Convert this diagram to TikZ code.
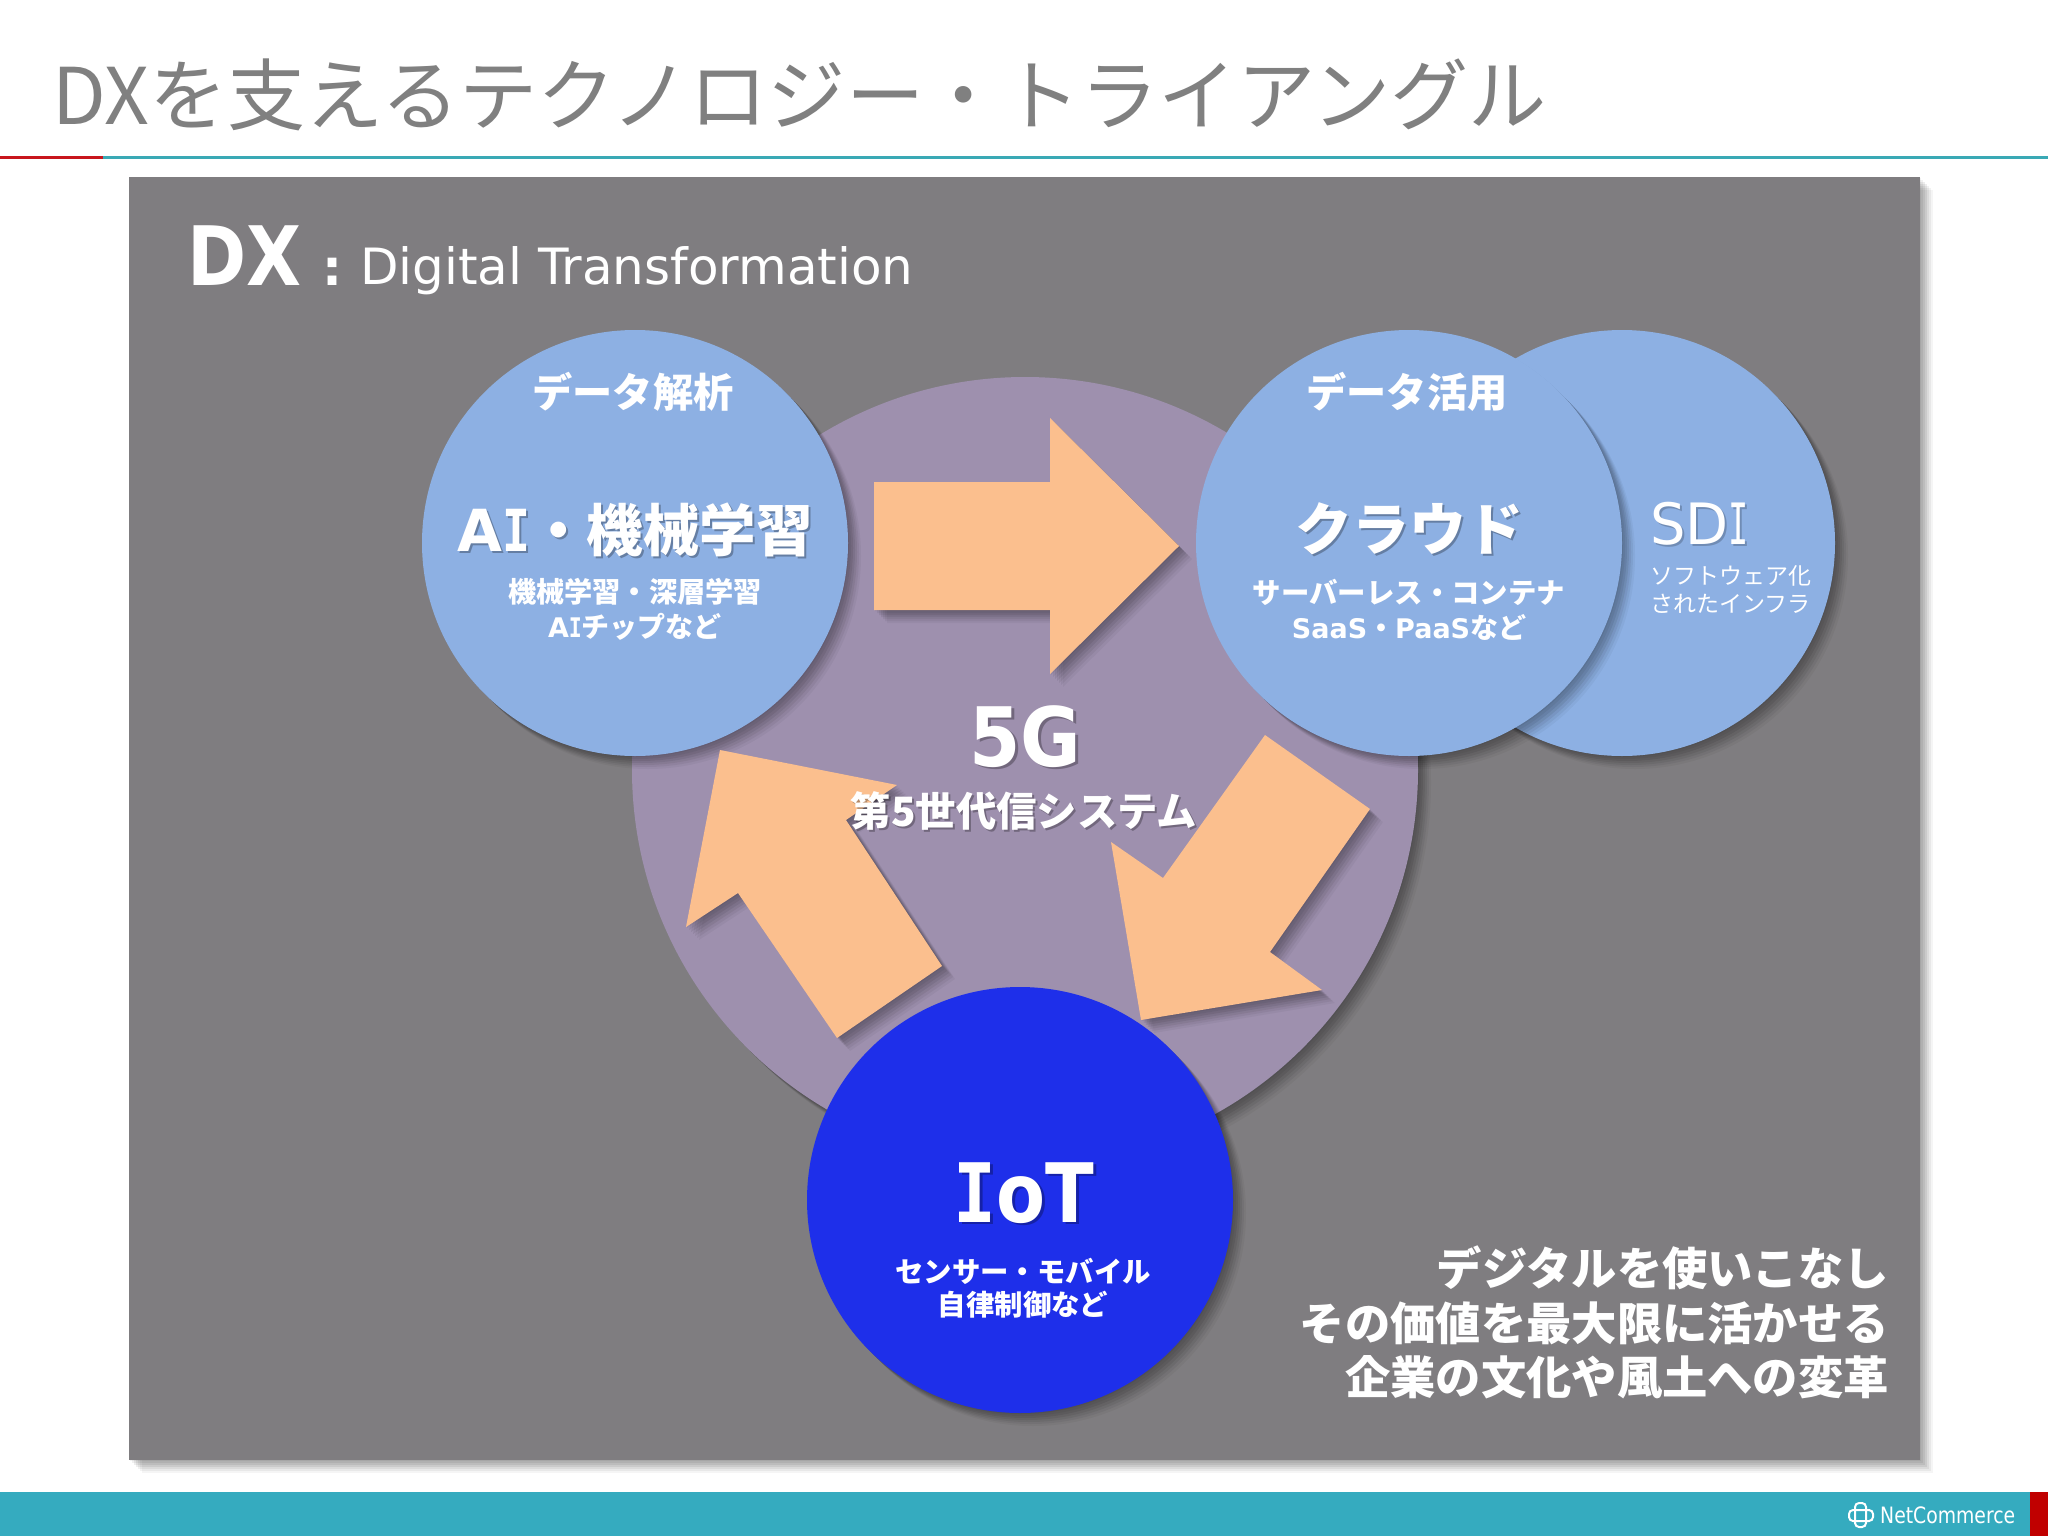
\documentclass[tikz,border=0pt]{standalone}
\usepackage{fontspec}
\usetikzlibrary{shadows}
\setmainfont{Noto Sans CJK JP}
\newfontfamily\latinfont{DejaVu Sans}
\newfontfamily\serifI{DejaVu Sans Mono}
\definecolor{panelgrey}{HTML}{7F7D80}
\definecolor{circleblue}{HTML}{8DB0E3}
\definecolor{fiveg}{HTML}{9E90AE}
\definecolor{iotblue}{HTML}{1E2FEA}
\definecolor{arrowpeach}{HTML}{FBBF8E}
\definecolor{footerteal}{HTML}{35ABBF}
\definecolor{linered}{HTML}{C8161D}
\definecolor{darkred}{HTML}{C00000}
\definecolor{linteal}{HTML}{3AA9B5}
\definecolor{titlegrey}{HTML}{808080}
\newcommand{\fs}[1]{\fontsize{#1}{#1}\selectfont}
\newcommand{\slab}{\scalebox{.8}[1]{\serifI I}}
\newcommand{\ailabel}{{\latinfont\fontsize{58}{58}\selectfont A\slab}・機械学習}
\newcommand{\ioTlabel}{\scalebox{.87}[1]{\latinfont{\serifI I}oT}}
\newcommand{\fiveglabel}{\scalebox{.9}[1]{\latinfont 5G}}
\newcommand{\sdilabel}{\scalebox{.98}[1]{\latinfont SD\scalebox{.6}[1]{\serifI I}}}
\tikzset{
  x=1pt,y=-1pt,
  softshadow/.style={
    general shadow={shadow xshift=1pt,shadow yshift=-1pt,fill=black,opacity=.05},
    general shadow={shadow xshift=3pt,shadow yshift=-3pt,fill=black,opacity=.06},
    general shadow={shadow xshift=5pt,shadow yshift=-5pt,fill=black,opacity=.07},
    general shadow={shadow xshift=7pt,shadow yshift=-7pt,fill=black,opacity=.07},
    general shadow={shadow xshift=9pt,shadow yshift=-9pt,fill=black,opacity=.06},
    general shadow={shadow xshift=11pt,shadow yshift=-11pt,fill=black,opacity=.05},
    general shadow={shadow xshift=13pt,shadow yshift=-13pt,fill=black,opacity=.04}},
  bubble/.style={circle,inner sep=0pt,minimum size=426pt,softshadow},
  blockarrow/.style={fill=arrowpeach,softshadow},
  lab/.style={text=white,inner sep=0pt,align=center,font=\bfseries},
  labshadow/.style={text=black,opacity=.28,inner sep=0pt,align=center,font=\bfseries},
}
\begin{document}
\begin{tikzpicture}
\useasboundingbox (0,0) rectangle (2048,1536);
\fill[white] (0,0) rectangle (2048,1536);
% header
\node[anchor=west,inner sep=0pt,text=titlegrey,font=\fs{78.2}] (title) at (52,95) {DXを支えるテクノロジー・トライアングル};
\fill[linered] (0,156.5) rectangle (103,159);
\fill[linteal] (103,156.5) rectangle (2048,159);
% panel
\node[anchor=north west,fill=panelgrey,inner sep=0pt,minimum width=1791pt,minimum height=1283pt,softshadow] (panel) at (129,177) {};
\node[anchor=base west,inner sep=0pt,text=white,font=\latinfont\fs{82}\bfseries] (dx) at (187,285) {\scalebox{.87}[1]{DX}};
\node[anchor=base west,inner sep=0pt,text=white,font=\latinfont\fs{50}\bfseries] (colon) at (322,285) {:};
\node[anchor=base west,inner sep=0pt,text=white,font=\latinfont\fs{50}] (dt) at (360,284) {Digital Transformation};
% circles
\node[bubble,fill=fiveg,minimum size=786pt] (c5g) at (1025,770) {};
\node[bubble,fill=circleblue] (csdi) at (1622,543) {};
\node[bubble,fill=circleblue] (cai) at (635,543) {};
\node[bubble,fill=circleblue] (ccloud) at (1409,543) {};
\node[bubble,fill=iotblue] (ciot) at (1020,1200) {};
% arrows
\path[blockarrow] (874,482) -- (1050,482) -- (1050,418) -- (1179,546) -- (1050,674) -- (1050,610) -- (874,610) -- cycle;
\path[blockarrow] (1265,735) -- (1370,809) -- (1270,952) -- (1322,990) -- (1141,1020) -- (1111,842) -- (1163,878) -- cycle;
\path[blockarrow] (720,750) -- (897,785) -- (846,820) -- (942,966) -- (837,1038) -- (738,893) -- (686,927) -- cycle;
% AI
\node[lab,font=\fs{40.2}\bfseries] (t1) at (633,392) {データ解析};
\node[labshadow,font=\fs{56.5}\bfseries] at (637,532) {\ailabel};
\node[lab,font=\fs{56.5}\bfseries] (t2) at (635,530) {\ailabel};
\node[lab,font=\fs{28.2}\bfseries] (t3) at (635,592) {機械学習・深層学習};
\node[lab,font=\fs{28}\bfseries] (t4) at (635,627) {{\latinfont\fs{27}A\slab}チップなど};
% cloud
\node[lab,font=\fs{40.2}\bfseries] (t5) at (1407,392) {データ活用};
\node[labshadow,font=\fs{57}\bfseries] at (1411,531) {クラウド};
\node[lab,font=\fs{57}\bfseries] (t6) at (1409,529) {クラウド};
\node[lab,font=\fs{28.4}\bfseries] (t7) at (1409,592) {サーバーレス・コンテナ};
\node[lab,font=\fs{28}\bfseries] (t8) at (1409,627) {{\latinfont\fs{27}SaaS}・{\latinfont\fs{27}PaaS}など};
% SDI
\node[anchor=west,inner sep=0pt,text=black,opacity=.2,font=\fs{57}] at (1652,526) {\sdilabel};
\node[anchor=west,inner sep=0pt,text=white,font=\fs{57}] (t9) at (1650,524) {\sdilabel};
\node[anchor=west,inner sep=0pt,text=white,font=\fs{23}] (t10) at (1650,576) {ソフトウェア化};
\node[anchor=west,inner sep=0pt,text=white,font=\fs{23}] (t11) at (1650,604) {されたインフラ};
% 5G
\node[labshadow,font=\fs{82}\bfseries] at (1028,739) {\fiveglabel};
\node[lab,font=\fs{82}\bfseries] (t12) at (1025,737) {\fiveglabel};
\node[labshadow,font=\fs{40.4}\bfseries] at (1026,813) {第5世代信システム};
\node[lab,font=\fs{40.4}\bfseries] (t13) at (1024,811) {第5世代信システム};
% IoT
\node[labshadow,font=\fs{82}\bfseries] at (1027,1195) {\ioTlabel};
\node[lab,font=\fs{82}\bfseries] (t14) at (1024,1193) {\ioTlabel};
\node[lab,font=\fs{28.4}\bfseries] (t15) at (1023,1271) {センサー・モバイル};
\node[lab,font=\fs{28.4}\bfseries] (t16) at (1023,1305) {自律制御など};
% bottom right
\node[anchor=east,lab,font=\fs{45.3}\bfseries] (b1) at (1889,1268) {デジタルを使いこなし};
\node[anchor=east,lab,font=\fs{45.3}\bfseries] (b2) at (1889,1323) {その価値を最大限に活かせる};
\node[anchor=east,lab,font=\fs{45.3}\bfseries] (b3) at (1889,1377) {企業の文化や風土への変革};
% footer
\fill[footerteal] (0,1492) rectangle (2030,1536);
\fill[darkred] (2030,1492) rectangle (2048,1536);
\draw[white,line width=2pt,rounded corners=4pt] (1855,1503) rectangle (1866,1527);
\draw[white,line width=2pt,rounded corners=4pt] (1849,1510) rectangle (1873,1521);
\node[anchor=west,inner sep=0pt,text=white,font=\latinfont\fs{18.8}] (logo) at (1880,1515) {\scalebox{1}[1.2]{NetCommerce}};
\end{tikzpicture}
\end{document}
